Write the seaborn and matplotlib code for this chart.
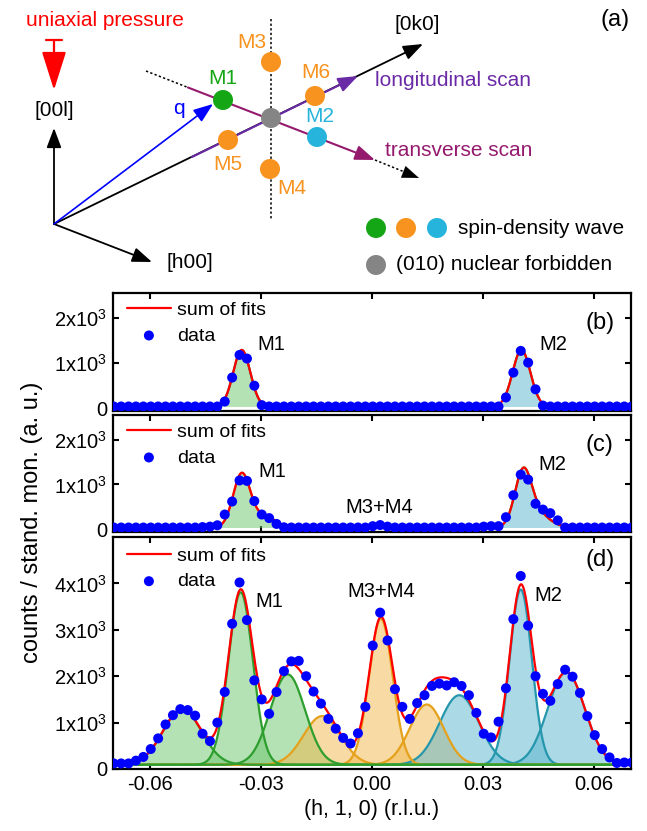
import matplotlib
matplotlib.use("Agg")
import matplotlib.pyplot as plt
import numpy as np
import seaborn as sns
from matplotlib.patches import Circle

# ---------------- data ----------------
# scan grid along (h, 1, 0), 0.002 r.l.u. steps
h_scan = np.round(np.arange(71) * 0.002 - 0.0698, 4)

counts_b = ([40] * 15 + [150, 680, 1180, 1100, 500, 70] + [40] * 32
            + [240, 790, 1270, 1010, 420, 60] + [40] * 12)
counts_c = ([40] * 12 + [50, 60, 90, 330, 620, 1090, 1080, 630, 330, 250, 120, 45]
            + [40] * 11 + [70, 95, 60] + [40] * 12 + [60, 70, 70, 270, 760, 1220, 1110,
                                                     570, 440, 360, 200, 40] + [40] * 9)
counts_d = [120, 120, 120, 180, 260, 430, 660, 960, 1160, 1290,
            1270, 1150, 760, 600, 1000, 1660, 3130, 4020, 3210, 1910,
            1500, 1190, 1660, 2110, 2320, 2330, 2000, 1670, 1410, 1080,
            870, 670, 550, 770, 1340, 2660, 3370, 2770, 1720, 1340,
            1080, 1420, 1590, 1790, 1840, 1800, 1870, 1790, 1590, 1210,
            760, 680, 1020, 1740, 3230, 4160, 3090, 2000, 1620, 1470,
            1830, 2140, 1990, 1640, 1140, 730, 430, 250, 130, 140, 140]

# gaussian fit components: centre, amplitude, sigma; peaks grouped for drawing
bg_b, bg_c, bg_d = 40, 40, 90
b_center = [-0.0352, 0.0404]
b_amp = [1250, 1250]
b_sigma = [0.0023, 0.0024]
b_group = [0, 1]
b_range = [(-0.0406, -0.0302), (0.0353, 0.0452)]

c_center = [-0.0290, -0.0352, 0.0440, 0.0408]
c_amp = [250, 1200, 350, 1100]
c_sigma = [0.0028, 0.0023, 0.0035, 0.0022]
c_group = [0, 0, 1, 1]
c_range = [(-0.0429, -0.0243), (0.0308, 0.0513)]

d_center = [-0.0513, -0.0355, -0.0228, -0.0135, 0.0024, 0.0148, 0.0236, 0.0402, 0.0525]
d_amp = [1200, 3720, 1950, 1050, 3150, 1300, 1500, 3780, 2000]
d_sigma = [0.0052, 0.0033, 0.0047, 0.0050, 0.0032, 0.0046, 0.0053, 0.0030, 0.0050]
d_group = list(range(9))
d_range = [(-0.07, 0.07)] * 9

# colour keys (fill, line) for each drawn group
b_style = [("g", "g2"), ("c", "g")]
c_style = [("g", "olive"), ("c", "g")]
d_style = [("g", "g")] * 3 + [("o", "o")] * 3 + [("c", "c")] * 3

FILL = {"g": "#6cc66c", "o": "#f2b84b", "c": "#5ab4cf"}
LINE = {"g": "#2e9e2e", "g2": "#1f7a4a", "o": "#e5a11c", "olive": "#b89a28",
        "c": "#2597ad"}

sns.set_theme(style="ticks")
plt.rcParams["font.family"] = ["Liberation Sans", "DejaVu Sans"]
plt.rcParams["mathtext.fontset"] = "custom"
plt.rcParams["mathtext.rm"] = "Liberation Sans"
for key in ("text.color", "axes.labelcolor", "xtick.color", "ytick.color", "axes.edgecolor"):
    plt.rcParams[key] = "black"

fig = plt.figure(figsize=(6.47, 8.31), dpi=100)
W, H = 647.0, 831.0


def gauss(x, c, a, s):
    return a * np.exp(-(x - c) ** 2 / (2 * s ** 2))


def panel(rect, counts, bg, centers, amps, sigmas, groups, ranges, styles, ylim, yticks):
    ax = fig.add_axes(rect)
    xf = np.linspace(-0.07, 0.07, 1401)
    total = np.full_like(xf, bg, dtype=float)
    for c, a, s in zip(centers, amps, sigmas):
        total += gauss(xf, c, a, s)
    comps = []
    for g, (x0, x1) in enumerate(ranges):
        xr = np.linspace(x0, x1, 400)
        yr = np.full_like(xr, bg, dtype=float)
        for c, a, s, gg in zip(centers, amps, sigmas, groups):
            if gg == g:
                yr += gauss(xr, c, a, s)
        comps.append((xr, yr, styles[g]))
    for xr, yr, st in comps:
        ax.fill_between(xr, bg, yr, color=FILL[st[0]], alpha=0.5, lw=0, zorder=1)
    order = {"c": 0, "o": 1, "olive": 1, "g": 2, "g2": 2}
    for xr, yr, st in sorted(comps, key=lambda t: order[t[2][1]]):
        ax.plot(xr, yr, color=LINE[st[1]], lw=1.6, zorder=2)
    sns.lineplot(x=xf, y=total, ax=ax, color="red", lw=1.6, label="sum of fits",
                 estimator=None, sort=False, zorder=3)
    sns.scatterplot(x=h_scan, y=counts, ax=ax, color="#0000ff", s=52,
                    edgecolor="none", label="data", zorder=4)
    ax.set_xlim(-0.07, 0.07)
    ax.set_ylim(*ylim)
    ax.set_xticks([-0.06, -0.03, 0.0, 0.03, 0.06])
    ax.set_yticks(yticks)
    ax.set_yticklabels(["0"] + ["%dx10$^3$" % (t // 1000) for t in yticks[1:]])
    ax.tick_params(direction="in", top=True, right=True, length=4, width=1.5,
                   labelsize=14.5, pad=4)
    for sp in ax.spines.values():
        sp.set_linewidth(1.6)
    ax.set_xlabel("")
    ax.set_ylabel("")
    ax.legend(loc="upper left", bbox_to_anchor=(0.013, 0.985), frameon=False,
              fontsize=14, handlelength=2.3, handletextpad=0.3,
              labelspacing=0.4, borderaxespad=0.0, borderpad=0.35)
    return ax


def rect(top, bottom):
    return [113 / W, 1 - bottom / H, (631 - 113) / W, (bottom - top) / H]


ax_b = panel(rect(293, 411), counts_b, bg_b, b_center, b_amp, b_sigma, b_group, b_range,
             b_style, (-60, 2550), [0, 1000, 2000])
ax_c = panel(rect(415, 532), counts_c, bg_c, c_center, c_amp, c_sigma, c_group, c_range,
             c_style, (-60, 2550), [0, 1000, 2000])
ax_d = panel(rect(537, 769), counts_d, bg_d, d_center, d_amp, d_sigma, d_group, d_range,
             d_style, (0, 5000), [0, 1000, 2000, 3000, 4000])

for ax in (ax_b, ax_c):
    ax.set_xticklabels([])
ax_d.set_xticklabels(["-0.06", "-0.03", "0.00", "0.03", "0.06"])
ax_d.set_xlabel("(h, 1, 0) (r.l.u.)", fontsize=15.5, labelpad=4)

ax_b.text(-0.0272, 1400, "M1", fontsize=14.5, ha="center", va="center")
ax_b.text(0.0489, 1400, "M2", fontsize=14.5, ha="center", va="center")
ax_c.text(-0.0270, 1290, "M1", fontsize=14.5, ha="center", va="center")
ax_c.text(0.0019, 490, "M3+M4", fontsize=14.5, ha="center", va="center")
ax_c.text(0.0487, 1440, "M2", fontsize=14.5, ha="center", va="center")
ax_d.text(-0.0278, 3600, "M1", fontsize=14.5, ha="center", va="center")
ax_d.text(0.0026, 3820, "M3+M4", fontsize=14.5, ha="center", va="center")
ax_d.text(0.0476, 3730, "M2", fontsize=14.5, ha="center", va="center")
for ax, lab, yf in ((ax_b, "(b)", 0.746), (ax_c, "(c)", 0.744), (ax_d, "(d)", 0.90)):
    ax.text(0.94, yf, lab, transform=ax.transAxes, fontsize=17, ha="center", va="center")

fig.text(32 / W, 1 - 522 / H, "counts / stand. mon. (a. u.)", rotation=90,
         fontsize=17, ha="center", va="center")

# ---------------- panel (a): scattering geometry sketch ----------------
axd = fig.add_axes([0, 1 - 285 / H, 1, 285 / H])
axd.set_xlim(0, W)
axd.set_ylim(285, 0)
axd.axis("off")

origin = (54, 224)
spot_name = ["M1", "M2", "M3", "M4", "M5", "M6", "nuc"]
spot_x = [223, 317, 271, 270, 228, 315, 271]
spot_y = [100, 137, 62, 169, 140, 96, 118]
spot_color = {"M1": "#14a614", "M2": "#27b4dc", "M3": "#f7931e", "M4": "#f7931e",
              "M5": "#f7931e", "M6": "#f7931e", "nuc": "#858585"}
label_xy = {"M1": (223, 79), "M2": (320, 117), "M3": (252, 42), "M4": (292, 188),
            "M5": (228, 164), "M6": (316, 73)}


def arrow(p0, p1, color, lw=1.3, hl=0.8, hw=0.3, ms=15, z=2):
    axd.annotate("", xy=p1, xytext=p0, zorder=z,
                 arrowprops=dict(arrowstyle="-|>,head_length=%g,head_width=%g" % (hl, hw),
                                 color=color, lw=lw, shrinkA=0, shrinkB=0,
                                 mutation_scale=ms))


dotted = dict(color="black", lw=1.1, ls=(0, (1.5, 1.5)))
# axes of reciprocal space
arrow(origin, (54, 128), "black")
arrow(origin, (152, 262), "black")
arrow(origin, (423, 44), "black")
arrow(origin, (213, 104), "#0000ff", lw=1.2)
# scan directions
arrow((192, 157), (358, 76), "#6a2aa6", lw=1.5)
axd.plot([146, 188], [71, 87.5], zorder=2, **dotted)
arrow((188, 87.5), (375, 160), "#951a6e", lw=1.5)
axd.plot([375, 412], [160, 175], zorder=2, **dotted)
arrow((410, 174.5), (419, 178), "black", lw=0.1)
axd.plot([271, 271], [19, 220], zorder=1, **dotted)
# uniaxial pressure
axd.plot([46, 62], [40, 40], color="red", lw=1.6)
arrow((54, 40), (54, 90), "red", lw=1.6, hl=1.2, hw=0.38, ms=20)

for n, x, y in zip(spot_name, spot_x, spot_y):
    axd.add_patch(Circle((x, y), 10, color=spot_color[n], zorder=3, lw=0))
    if n in label_xy:
        axd.text(*label_xy[n], n, color=spot_color[n], fontsize=15, ha="center",
                 va="center", zorder=4)

# legend of the sketch
for n, x in (("M1", 376), ("M6", 406), ("M2", 437)):
    axd.add_patch(Circle((x, 228), 10, color=spot_color[n], lw=0))
axd.add_patch(Circle((376, 265), 10, color=spot_color["nuc"], lw=0))
axd.text(458, 228, "spin-density wave", fontsize=15, va="center")
axd.text(396, 265, "(010) nuclear forbidden", fontsize=15, va="center")

axd.text(26, 21, "uniaxial pressure", color="red", fontsize=15, va="center")
axd.text(54, 110, "[00l]", fontsize=15, ha="center", va="center")
axd.text(190, 262, "[h00]", fontsize=15, ha="center", va="center")
axd.text(417, 24, "[0k0]", fontsize=15, ha="center", va="center")
axd.text(179, 108, "q", color="#0000ff", fontsize=15, ha="center", va="center")
axd.text(375, 81, "longitudinal scan", color="#6a2aa6", fontsize=15, va="center")
axd.text(385, 151, "transverse scan", color="#951a6e", fontsize=15, va="center")
axd.text(615, 20, "(a)", fontsize=17, ha="center", va="center")

fig.savefig("out.png", dpi=100)
